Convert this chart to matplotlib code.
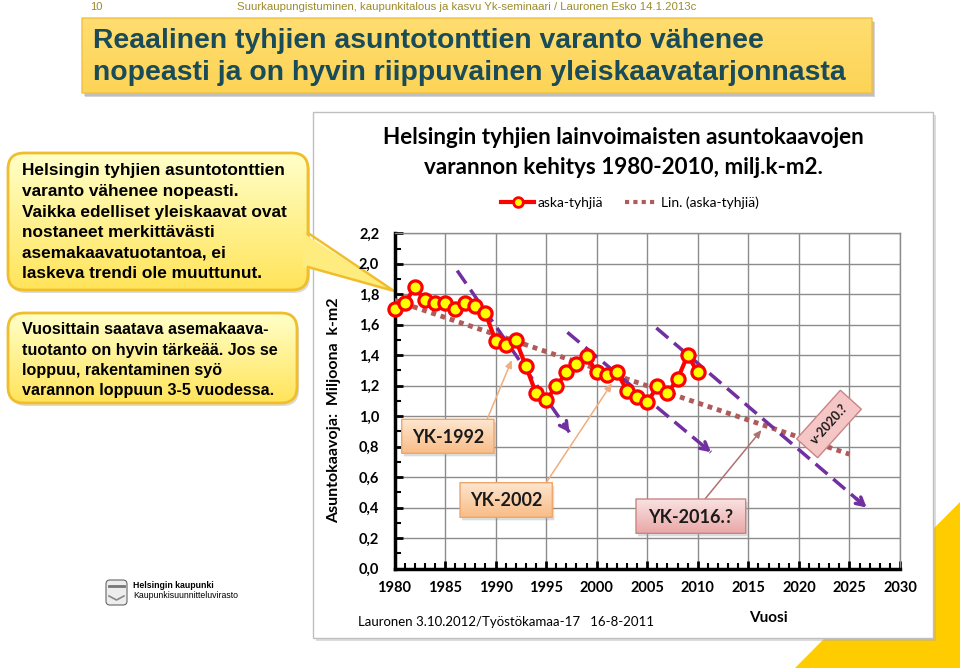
import numpy as np
import matplotlib
matplotlib.use('Agg')
import matplotlib.pyplot as plt
from matplotlib.patches import FancyBboxPatch, Rectangle, Polygon
from matplotlib.colors import LinearSegmentedColormap
from matplotlib.ticker import MultipleLocator, FuncFormatter
from matplotlib.lines import Line2D

# --- data ---
years = list(range(1980, 2011))
reserve = [1.70, 1.74, 1.845, 1.76, 1.74, 1.74, 1.70, 1.74, 1.72, 1.675,
           1.495, 1.47, 1.50, 1.327, 1.15, 1.106, 1.195, 1.287, 1.342, 1.397,
           1.287, 1.272, 1.29, 1.167, 1.123, 1.09, 1.195, 1.15, 1.244, 1.40, 1.287]
trend_years = [1980, 2025]
trend_values = [1.76, 0.75]

# purple dashed guide arrows
guide_start_years = [1986.2, 1997.1, 2005.9]
guide_start_values = [1.955, 1.55, 1.579]
guide_end_years = [1997.3, 2011.3, 2026.7]
guide_end_values = [0.894, 0.763, 0.40]

# yleiskaava callouts and the points they mark
plan_labels = ['YK-1992', 'YK-2002', 'YK-2016.?']
plan_years = [1991.6, 2001.5, 2016.3]
plan_values = [1.368, 1.215, 0.909]

title_lines = ['Reaalinen tyhjien asuntotonttien varanto vähenee',
               'nopeasti ja on hyvin riippuvainen yleiskaavatarjonnasta']
box1_lines = ['Helsingin tyhjien asuntotonttien', 'varanto vähenee nopeasti.',
              'Vaikka edelliset yleiskaavat ovat', 'nostaneet merkittävästi',
              'asemakaavatuotantoa, ei', 'laskeva trendi ole muuttunut.']
box2_lines = ['Vuosittain saatava asemakaava-', 'tuotanto on hyvin tärkeää. Jos se',
              'loppuu, rakentaminen syö', 'varannon loppuun 3-5 vuodessa.']

CAL = ['Lato', 'DejaVu Sans']
ARIAL = ['Liberation Sans', 'DejaVu Sans']
NARROW = ['Liberation Sans Narrow', 'Liberation Sans', 'DejaVu Sans']
W, H = 960, 668

fig = plt.figure(figsize=(9.6, 6.68), dpi=100)
bg = fig.add_axes([0, 0, 1, 1])
bg.axis('off')


def px_rect(l, t, r, b):
    return [l / W, 1 - b / H, (r - l) / W, (b - t) / H]


def grad_box(axh, x0, y0, w, h, c_top, c_bot, edge, lw, r, z):
    patch = FancyBboxPatch((x0, y0), w, h, boxstyle=f"round,pad=0,rounding_size={r}",
                           fc='none', ec=edge, lw=lw, zorder=z + 0.1)
    shadow = FancyBboxPatch((x0 + 2, y0 + 3), w, h, boxstyle=f"round,pad=0,rounding_size={r}",
                            fc='#999999', ec='none', alpha=0.35, zorder=z - 0.1)
    axh.add_patch(shadow)
    axh.add_patch(patch)
    cmap = LinearSegmentedColormap.from_list('g', [c_top, c_bot])
    im = axh.imshow(np.linspace(0, 1, 64).reshape(-1, 1), cmap=cmap, origin='upper',
                    extent=(x0, x0 + w, y0 + h, y0), aspect='auto', zorder=z)
    im.set_clip_path(patch)


# slide background pieces
bg.add_patch(Polygon([(795, 668), (960, 502), (960, 668)], fc='#FFCC00', ec='none', zorder=0.5))
bg.add_patch(Rectangle((316, 115), 620, 526, fc='#AAAAAA', alpha=0.4, ec='none', zorder=0.8))
bg.add_patch(Rectangle((313, 112), 620, 526, fc='white', ec='#BFBFBF', lw=1, zorder=1))

bg.text(90, 7, '10', fontsize=8, color='#9C8B2B', va='center', family=ARIAL)
bg.text(237, 7, 'Suurkaupungistuminen, kaupunkitalous ja kasvu Yk-seminaari / Lauronen Esko 14.1.2013c',
        fontsize=8.2, color='#9C8B2B', va='center', family=NARROW)

bg.add_patch(Rectangle((85, 22), 790, 75, fc='#AAAAAA', alpha=0.5, ec='none', zorder=1))
grad_box(bg, 82, 18, 790, 75, '#FFDD70', '#FCD456', '#F2C040', 1, 0.1, 1.2)
for i, line in enumerate(title_lines):
    bg.text(93, 41 + i * 32, line, fontsize=20.4, fontweight='bold', color='#1A4B59',
            va='center', family=NARROW, zorder=3)

# callout boxes on the left
grad_box(bg, 8, 153, 300, 137, '#FFFFC8', '#FFE45A', '#F0BE2C', 2, 16, 2)
bg.add_patch(Polygon([(303, 233), (394, 291), (303, 267)], fc='#FFEC7E', ec='none', zorder=2.2))
bg.plot([308, 394, 308], [233, 291, 267], color='#F0BE2C', lw=1.8, zorder=2.3)
for i, line in enumerate(box1_lines):
    bg.text(22, 171 + i * 20.6, line, fontsize=12.4, fontweight='bold', color='black',
            va='center', family=ARIAL, zorder=3)

grad_box(bg, 8, 313, 289, 90, '#FFFFC8', '#FFE45A', '#F0BE2C', 2, 16, 2)
for i, line in enumerate(box2_lines):
    bg.text(22, 330 + i * 20.2, line, fontsize=11.6, fontweight='bold', color='black',
            va='center', family=ARIAL, zorder=3)

# logo
bg.add_patch(FancyBboxPatch((106, 580), 21, 25, boxstyle='round,pad=0,rounding_size=4',
                            fc='#EDEDED', ec='#666666', lw=0.8, zorder=2))
bg.plot([109, 124], [586, 586], color='#777777', lw=2, zorder=2.1)
bg.plot([109, 116.5, 124], [596, 600, 596], color='#888888', lw=1.2, zorder=2.1)
bg.text(133, 586, 'Helsingin kaupunki', fontsize=6.3, fontweight='bold', va='center', family=ARIAL)
bg.text(133, 596, 'Kaupunkisuunnitteluvirasto', fontsize=6.3, va='center', family=ARIAL)

# chart texts
bg.text(623, 137, 'Helsingin tyhjien lainvoimaisten asuntokaavojen', fontsize=16.2,
        fontweight='bold', ha='center', va='center', family=CAL, zorder=3)
bg.text(623, 167, 'varannon kehitys 1980-2010, milj.k-m2.', fontsize=16.2,
        fontweight='bold', ha='center', va='center', family=CAL, zorder=3)
bg.text(334, 410, 'Asuntokaavoja:  Miljoona  k-m2', rotation=90, fontsize=11.5,
        fontweight='bold', ha='center', va='center', family=CAL, zorder=3)
bg.text(768, 618, 'Vuosi', fontsize=11, fontweight='bold', ha='center', va='center',
        family=CAL, zorder=3)
bg.text(358, 622, 'Lauronen 3.10.2012/Työstökamaa-17   16-8-2011', fontsize=9.5,
        va='center', family=CAL, zorder=3)

# --- the chart ---
ax = fig.add_axes(px_rect(394.5, 233.3, 900, 568.5), zorder=2)
purple = '#7030A0'

ax.plot(trend_years, trend_values, color='#B05A5A', lw=3.5, ls=(0, (1, 1)),
        dash_capstyle='butt', zorder=3)
for x0, y0, x1, y1 in zip(guide_start_years, guide_start_values, guide_end_years, guide_end_values):
    ax.plot([x0, x1], [y0, y1], color=purple, lw=2.5, ls=(0, (4.5, 2.2)), zorder=4)
    ax.annotate('', xy=(x1, y1), xytext=(x1 - 0.05 * (x1 - x0), y1 - 0.05 * (y1 - y0)),
                arrowprops=dict(arrowstyle='->,head_length=0.55,head_width=0.3',
                                color=purple, lw=2.5, shrinkA=0, shrinkB=0), zorder=4)
ax.plot(years, reserve, color='#FF0000', lw=3, marker='o', ms=9.5, mfc='#FFFF00',
        mec='#FF0000', mew=2.3, zorder=5, clip_on=False)

ax.set_xlim(1980, 2030)
ax.set_ylim(0, 2.2)
ax.xaxis.set_major_locator(MultipleLocator(5))
ax.xaxis.set_minor_locator(MultipleLocator(1))
ax.yaxis.set_major_locator(MultipleLocator(0.2))
ax.yaxis.set_minor_locator(MultipleLocator(0.1))
ax.yaxis.set_major_formatter(FuncFormatter(lambda v, p: f'{v:.1f}'.replace('.', ',')))
ax.grid(True, which='major', color='#8C8C8C', lw=1)
ax.set_axisbelow(True)
ax.tick_params(which='major', direction='in', length=6, width=2, color='black')
ax.tick_params(which='minor', direction='in', length=4, width=1.5, color='black')
ax.tick_params(axis='y', which='major', pad=11)
ax.tick_params(axis='x', which='major', pad=9)
for lab in ax.get_xticklabels() + ax.get_yticklabels():
    lab.set_fontweight('bold')
    lab.set_fontfamily(CAL)
    lab.set_fontsize(10.5)
for s in ['left', 'bottom']:
    ax.spines[s].set_linewidth(2.5)
    ax.spines[s].set_color('black')
for s in ['top', 'right']:
    ax.spines[s].set_linewidth(1)
    ax.spines[s].set_color('#8C8C8C')

handles = [Line2D([], [], color='#FF0000', lw=3, marker='o', ms=7, mfc='#FFFF00', mec='#FF0000', mew=2),
           Line2D([], [], color='#B05A5A', lw=3, ls=(0, (1, 1)))]
fig.legend(handles, ['aska-tyhjiä', 'Lin. (aska-tyhjiä)'], loc='center',
           bbox_to_anchor=(630 / W, 1 - 203 / H), ncol=2, frameon=False,
           prop={'family': CAL, 'size': 10}, handlelength=2.4, columnspacing=1.6,
           handletextpad=0.2)

# --- overlay with the callout labels ---
top = fig.add_axes([0, 0, 1, 1], zorder=3)
top.axis('off')
top.patch.set_visible(False)


def data_px(x, y):
    disp = ax.transData.transform((x, y))
    return top.transData.inverted().transform(disp)


top.set_xlim(0, W)
top.set_ylim(H, 0)

label_boxes = [(401.7, 419.3, 92.3, 34), (460, 482.7, 92.3, 34.6), (636, 499, 109.7, 34.3)]
label_starts = [(486, 422), (544, 486), (705, 499)]
box_cols = [('#FDE6D0', '#F9BD88', '#EFA66B'), ('#FDE6D0', '#F9BD88', '#EFA66B'),
            ('#FBE3E3', '#E9A8A8', '#C98585')]
arrow_cols = ['#F0AE7C', '#F0AE7C', '#B07070']
for lab, (bx, by, bw, bh), st, cols, acol, px_, py_ in zip(plan_labels, label_boxes, label_starts,
                                                           box_cols, arrow_cols, plan_years, plan_values):
    tip = data_px(px_, py_)
    top.annotate('', xy=tip, xytext=st,
                 arrowprops=dict(arrowstyle='-|>,head_length=0.45,head_width=0.2',
                                 color=acol, lw=1.1, shrinkA=0, shrinkB=0), zorder=2)
    grad_box(top, bx, by, bw, bh, cols[0], cols[1], cols[2], 1, 0.1, 3)
    top.text(bx + bw / 2, by + bh / 2 + 1, lab, fontsize=13, fontweight='bold',
             ha='center', va='center', family=CAL, color='#1A1A1A', zorder=4)

top.text(829, 424, 'v-2020.?', rotation=48, rotation_mode='anchor', fontsize=9,
         fontweight='bold', ha='center', va='center', family=CAL, color='#1A1A1A', zorder=4,
         bbox=dict(boxstyle='square,pad=0.65', fc='#F5C6C6', ec='#C98585', lw=1))

bg.set_xlim(0, W)
bg.set_ylim(H, 0)
top.set_xlim(0, W)
top.set_ylim(H, 0)

fig.savefig('out.png', dpi=100)
